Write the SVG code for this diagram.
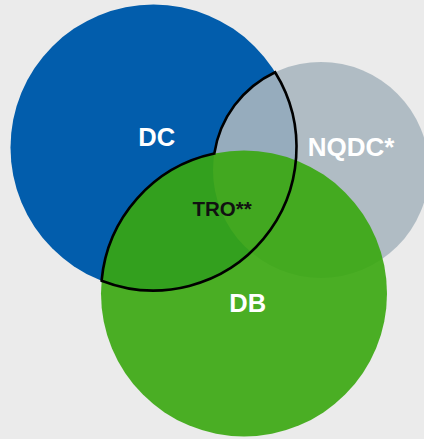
<svg xmlns="http://www.w3.org/2000/svg" width="424" height="439" viewBox="0 0 424 439">
  <style>
    .label { font-family: "Liberation Sans", Arial, sans-serif; font-weight: bold; text-anchor: middle; }
    .light { fill: #ffffff; }
    .dark { fill: #111111; }
  </style>
  <rect width="424" height="439" fill="#ebebeb"/>

  <!-- Defined contribution -->
  <g id="dc">
    <circle cx="153.5" cy="147.5" r="143" fill="#025dac"/>
    <text class="label light" x="156.7" y="146" font-size="25.5">DC</text>
  </g>

  <!-- Non-qualified deferred compensation -->
  <g id="nqdc">
    <circle cx="321" cy="170" r="108" fill="#a8b6bf" fill-opacity="0.89"/>
    <text class="label light" x="351" y="156" font-size="26">NQDC*</text>
  </g>

  <!-- Defined benefit -->
  <g id="db">
    <circle cx="244" cy="293.5" r="143" fill="#39a70e" fill-opacity="0.9"/>
    <text class="label light" x="247.7" y="311.7" font-size="25.5">DB</text>
  </g>

  <!-- Outlined region: part of DC overlapped by NQDC or DB -->
  <g id="tro">
    <path d="M 275.1 72.2 A 143 143 0 0 1 101.6 280.7 A 143 143 0 0 1 214.3 153.6 A 108 108 0 0 1 275.1 72.2 Z"
          fill="none" stroke="#000000" stroke-width="2.6" stroke-linejoin="miter"/>
    <text class="label dark" x="222" y="215.7" font-size="20.5">TRO**</text>
  </g>
</svg>
